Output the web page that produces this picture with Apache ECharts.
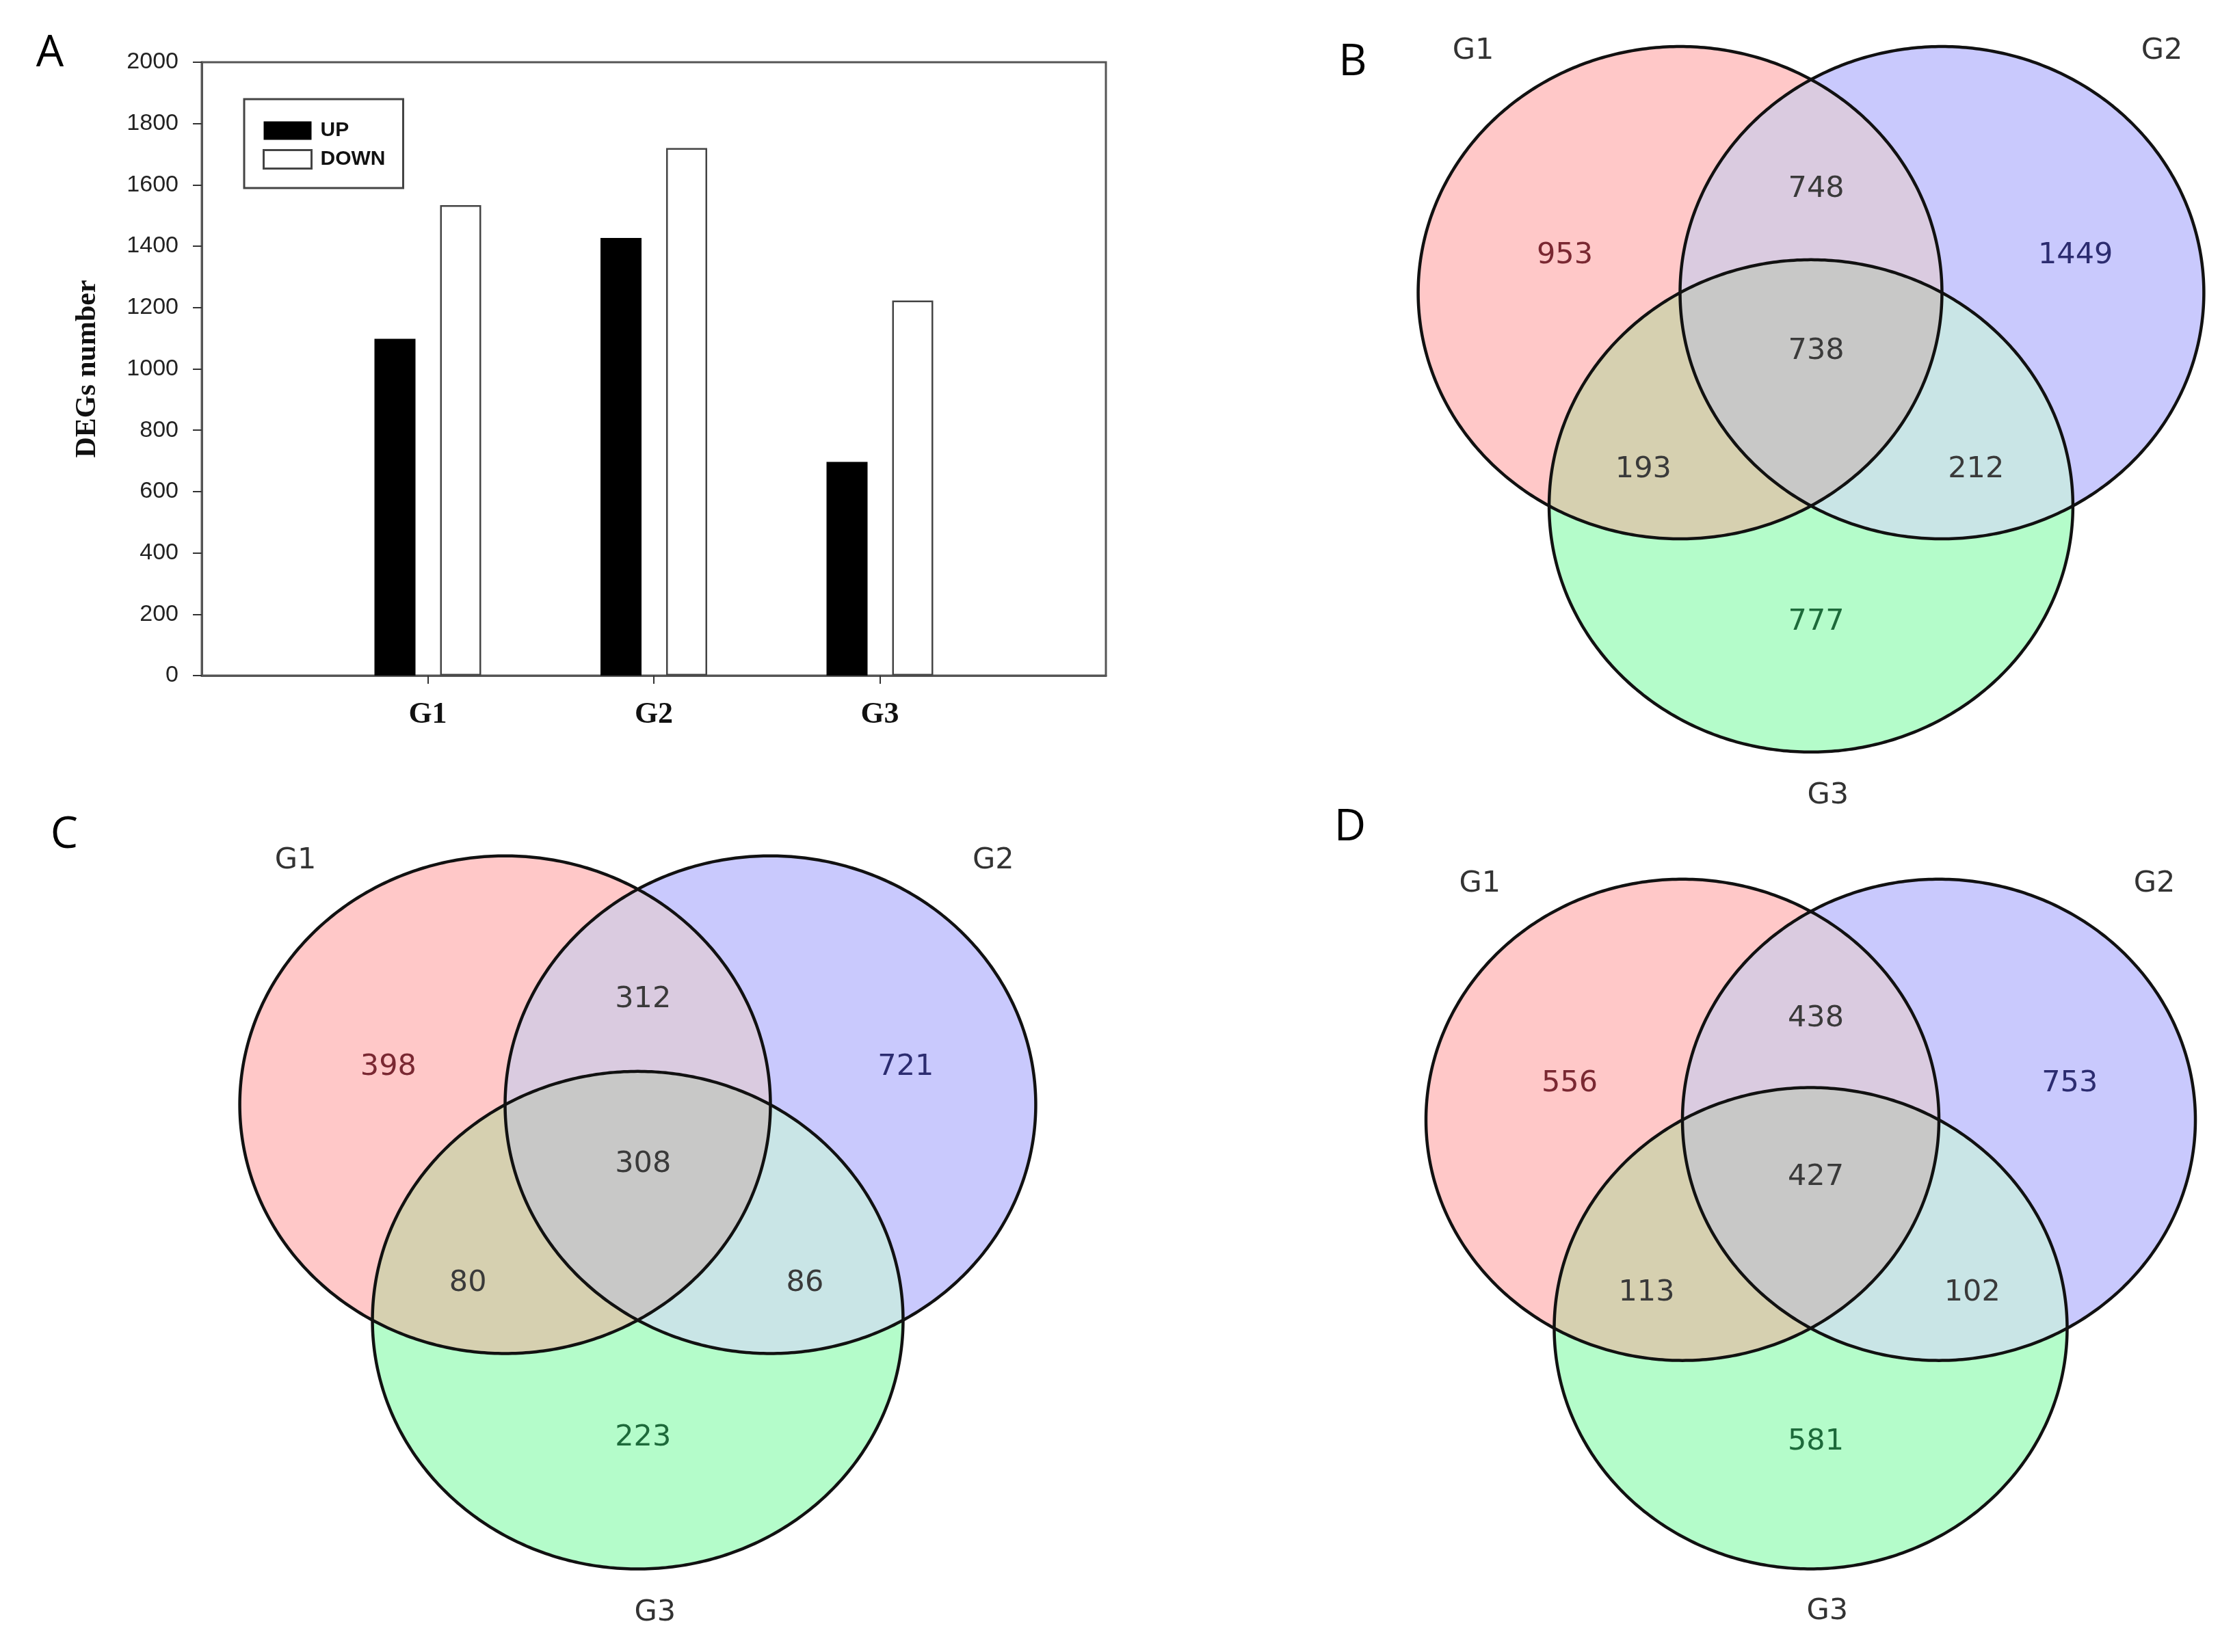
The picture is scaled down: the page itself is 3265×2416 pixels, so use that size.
<!DOCTYPE html>
<html><head><meta charset="utf-8">
<script src="https://cdn.jsdelivr.net/npm/echarts@6/dist/echarts.min.js"></script>
<style>html,body{margin:0;padding:0;background:#fff}#c{width:3265px;height:2416px}</style>
</head><body><div id="c"></div>
<script>
// ---------- DATA ----------
const barCategories = ['', 'G1', 'G2', 'G3', ''];
const upValues   = [null, 1098, 1427, 697, null];
const downValues = [null, 1534, 1720, 1223, null];
const yMin = 0, yMax = 2000, yInterval = 200;
const setNames = ['G1', 'G2', 'G3'];
// region order: G1 only, G2 only, G3 only, G1∩G2, G1∩G3, G2∩G3, G1∩G2∩G3
const vennB = [953, 1449, 777, 748, 193, 212, 738];
const vennC = [398, 721, 223, 312, 80, 86, 308];
const vennD = [556, 753, 581, 438, 113, 102, 427];

// ---------- LAYOUT / STYLE ----------
const CIRCLES = [[-0.5, 0.2887], [0.5, 0.2887], [0, -0.5774]]; // unit-radius set circles
const REGION_SETS = [[0], [1], [2], [0, 1], [0, 2], [1, 2], [0, 1, 2]];
const REGION_FILL = ['#FFC8C8', '#C9C9FD', '#B4FCCA', '#DACBE0', '#D6D0B0', '#C9E5E6', '#C8C8C7'];
const REGION_TEXT = ['#7A2832', '#2C2C70', '#1D6A3A', '#3A3A3A', '#3A3A3A', '#3A3A3A', '#3A3A3A'];
const LABEL_POS = [[-0.94, 0.44], [1.01, 0.44], [0.02, -1.05], [0.02, 0.71], [-0.64, -0.43], [0.63, -0.43], [0.02, 0.05]];
const SET_LABEL_POS = [[-1.29, 1.27], [1.34, 1.27], [0.065, -1.755]];
const NUM_FONT = '43px "DejaVu Sans"';

function regionRender(params, api) {
  const i = api.value(0);
  const sets = REGION_SETS[i];
  let px = 0, py = 0;
  sets.forEach(s => { px += CIRCLES[s][0]; py += CIRCLES[s][1]; });
  px /= sets.length; py /= sets.length;
  const pts = [];
  const N = 480;
  for (let k = 0; k < N; k++) {
    const th = k / N * Math.PI * 2;
    const ux = Math.cos(th), uy = Math.sin(th);
    let tmin = Infinity;
    sets.forEach(s => {
      const dx = px - CIRCLES[s][0], dy = py - CIRCLES[s][1];
      const b = ux * dx + uy * dy;
      const cc = dx * dx + dy * dy - 1;
      const t = -b + Math.sqrt(b * b - cc);
      if (t < tmin) tmin = t;
    });
    pts.push(api.coord([px + tmin * ux, py + tmin * uy]));
  }
  const lp = api.coord(LABEL_POS[i]);
  return {
    type: 'group',
    children: [
      { type: 'polygon', shape: { points: pts }, style: { fill: REGION_FILL[i] }, z2: i },
      { type: 'text', z2: 100, style: { text: String(api.value(1)), x: lp[0], y: lp[1], align: 'center', verticalAlign: 'middle', font: NUM_FONT, fill: REGION_TEXT[i] } }
    ]
  };
}
function outlineRender(params, api) {
  const k = api.value(0);
  const c = CIRCLES[k];
  const pts = [];
  const N = 480;
  for (let j = 0; j < N; j++) {
    const th = j / N * Math.PI * 2;
    pts.push(api.coord([c[0] + Math.cos(th), c[1] + Math.sin(th)]));
  }
  const lp = api.coord(SET_LABEL_POS[k]);
  return {
    type: 'group',
    children: [
      { type: 'polygon', shape: { points: pts }, style: { fill: 'none', stroke: '#111', lineWidth: 4.5 } },
      { type: 'text', style: { text: setNames[k], x: lp[0], y: lp[1], align: 'center', verticalAlign: 'middle', font: NUM_FONT, fill: '#333' } }
    ]
  };
}

// each panel: grid + axis ranges so that 1 unit = circle radius
const vennPanels = [
  { data: vennB, xr: [-1.7, 1.58], yr: [-1.9, 1.45], grid: { left: 1997, top: 10, width: 1256, height: 1206 } },
  { data: vennC, xr: [-1.7, 1.7],  yr: [-1.9, 1.45], grid: { left: 273, top: 1193, width: 1319, height: 1219 } },
  { data: vennD, xr: [-1.7, 1.58], yr: [-1.9, 1.45], grid: { left: 2010, top: 1229, width: 1230, height: 1179 } }
];

const grids = [{ left: 295, top: 91, width: 1322, height: 897, show: true, borderColor: '#555', borderWidth: 3, backgroundColor: 'transparent' }];
const xAxes = [{
  type: 'category', gridIndex: 0, data: barCategories, boundaryGap: false,
  axisLine: { lineStyle: { color: '#555', width: 3 } },
  axisTick: { inside: false, length: 12, lineStyle: { color: '#333', width: 2 }, interval: (idx) => idx >= 1 && idx <= 3 },
  axisLabel: { interval: 0, margin: 36, fontFamily: 'Liberation Serif', fontWeight: 'bold', fontSize: 44, color: '#111' },
  splitLine: { show: false }
}];
const yAxes = [{
  type: 'value', gridIndex: 0, min: yMin, max: yMax, interval: yInterval,
  name: 'DEGs number', nameLocation: 'middle', nameGap: 146,
  nameTextStyle: { fontFamily: 'Liberation Serif', fontWeight: 'bold', fontSize: 42, color: '#111' },
  axisLine: { show: true, lineStyle: { color: '#555', width: 3 } },
  axisTick: { show: true, inside: false, length: 13, lineStyle: { color: '#333', width: 2 } },
  axisLabel: { margin: 34, fontFamily: 'Liberation Sans', fontSize: 34, color: '#222', formatter: (v) => String(v) },
  splitLine: { show: false }
}];
const series = [
  { type: 'bar', name: 'UP', xAxisIndex: 0, yAxisIndex: 0, data: upValues, barWidth: 60, barGap: '60%', itemStyle: { color: '#000' } },
  { type: 'bar', name: 'DOWN', xAxisIndex: 0, yAxisIndex: 0, data: downValues, barWidth: 60, itemStyle: { color: '#fff', borderColor: '#444', borderWidth: 2.5 } }
];
vennPanels.forEach((p, n) => {
  const gi = n + 1;
  grids.push(p.grid);
  xAxes.push({ type: 'value', gridIndex: gi, min: p.xr[0], max: p.xr[1], show: false });
  yAxes.push({ type: 'value', gridIndex: gi, min: p.yr[0], max: p.yr[1], show: false });
  series.push({ type: 'custom', xAxisIndex: gi, yAxisIndex: gi, z: 2, renderItem: regionRender,
    data: p.data.map((v, i) => [i, v]), encode: { x: -1, y: -1 } });
  series.push({ type: 'custom', xAxisIndex: gi, yAxisIndex: gi, z: 3, renderItem: outlineRender,
    data: setNames.map((s, k) => [k]), encode: { x: -1, y: -1 } });
});

const letterFont = '64px "Open Sans"';
const option = {
  backgroundColor: '#fff',
  animation: false,
  grid: grids, xAxis: xAxes, yAxis: yAxes, series: series,
  legend: {
    data: [
      { name: 'UP', itemStyle: { color: '#000' } },
      { name: 'DOWN', itemStyle: { color: '#fff', borderColor: '#444', borderWidth: 3 } }
    ],
    orient: 'vertical', left: 357, top: 145, padding: [31, 26, 27, 27],
    itemWidth: 70, itemHeight: 27, itemGap: 12, icon: 'rect', selectedMode: false,
    borderColor: '#444', borderWidth: 3,
    textStyle: { fontFamily: 'Liberation Sans', fontWeight: 'bold', fontSize: 30, color: '#111', padding: [0, 0, 0, 8] }
  },
  graphic: [
    { type: 'text', x: 73, y: 79, style: { text: 'A', font: letterFont, fill: '#000', align: 'center', verticalAlign: 'middle' } },
    { type: 'text', x: 1978, y: 92, style: { text: 'B', font: letterFont, fill: '#000', align: 'center', verticalAlign: 'middle' } },
    { type: 'text', x: 94, y: 1222, style: { text: 'C', font: letterFont, fill: '#000', align: 'center', verticalAlign: 'middle' } },
    { type: 'text', x: 1974, y: 1211, style: { text: 'D', font: letterFont, fill: '#000', align: 'center', verticalAlign: 'middle' } }
  ]
};
const chart = echarts.init(document.getElementById('c'), null, { renderer: 'canvas' });
chart.setOption(option);
</script></body></html>
